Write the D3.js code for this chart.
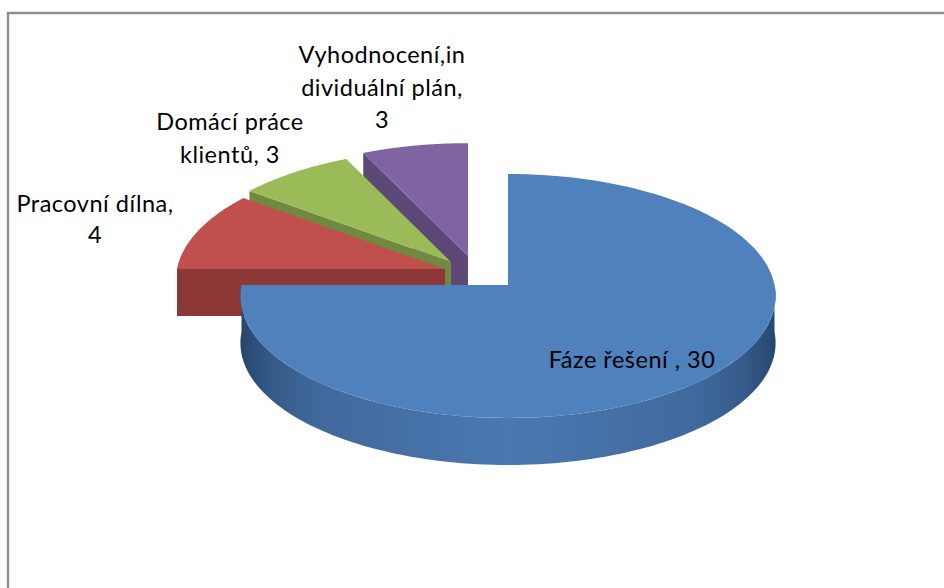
<!DOCTYPE html>
<html><head><meta charset="utf-8">
<script src="https://cdn.jsdelivr.net/npm/d3@7"></script>
<style>html,body{margin:0;padding:0;background:#fff;overflow:hidden}svg{display:block}
text{font-family:Lato,"Noto Sans",sans-serif;fill:#000}</style></head>
<body><svg id="c" width="944" height="588"></svg>
<script>
const categories = ["Fáze řešení", "Pracovní dílna", "Domácí práce klientů", "Vyhodnocení,individuální plán"];
const values = [30, 4, 3, 3];
const topColors = ["#4f81bd", "#c0504d", "#9bbb59", "#8064a2"];
const wallColors = ["#3f6a9f", "#8c3836", "#71893f", "#5c4776"];
const labelLines = [["Fáze řešení , 30"], ["Pracovní dílna,", "4"], ["Domácí práce", "klientů, 3"], ["Vyhodnocení,in", "dividuální plán,", "3"]];

// layout of the exploded slices and labels (pixels)
const apexX = [508, 445, 451, 468];
const apexY = [285, 269, 262, 256];
const radiusX = [266.5, 268, 268, 268];
const radiusY = [121, 123, 123, 123];
const labelX = [632, 95, 230, 382];
const labelY = [[368], [212, 243], [130, 163], [63, 96, 128]];
const boundaryNudgeDeg = [0, 0, 1.5, 2, 0]; // perspective shift of the wedge edges
const K = 0.09, DEPTH = 47;

const svg = d3.select("#c");
const defs = svg.append("defs");
const grad = defs.append("linearGradient").attr("id","wall").attr("gradientUnits","userSpaceOnUse")
  .attr("x1",241).attr("x2",776).attr("y1",0).attr("y2",0);
[[0,"#26466e"],[0.06,"#355b8a"],[0.15,"#41699d"],[0.5,"#4a78b0"],[0.85,"#41699d"],[0.94,"#355b8a"],[1,"#26466e"]]
  .forEach(([o,c])=>grad.append("stop").attr("offset",o).attr("stop-color",c));

// frame
const frame = d3.path();
frame.moveTo(8,588); frame.lineTo(8,13); frame.lineTo(944,13);
svg.append("path").attr("d",frame.toString()).attr("fill","none").attr("stroke","#8e8e8e").attr("stroke-width",2.4);

const pie = d3.pie().sort(null).value(d=>d);
const arcs = pie(values);
const line = d3.line();
const rad = d => d*Math.PI/180;
function proj(t, i, dz = 0){
  const s = 1/(1 + K*Math.cos(t));
  return [apexX[i] + radiusX[i]*Math.sin(t)*s, apexY[i] - radiusY[i]*Math.cos(t)*s + dz];
}
const samples = (a,b)=> d3.range(0,121).map(k=>a+(b-a)*k/120);

// paint back to front
[3,2,1,0].forEach(i=>{
  const a = arcs[i], g = svg.append("g");
  const start = a.startAngle + rad(boundaryNudgeDeg[i]);
  const end = a.endAngle + rad(boundaryNudgeDeg[i+1]);
  if (i>0){
    // cut face of the leading radius
    g.append("path").attr("fill",wallColors[i]).attr("d", line([
      proj(start,i),[apexX[i],apexY[i]],[apexX[i],apexY[i]+DEPTH],proj(start,i,DEPTH)])+"Z");
  } else {
    const th = samples(Math.PI/2, Math.PI*1.5).map(t=>proj(t,i));
    const bt = samples(Math.PI/2, Math.PI*1.5).map(t=>proj(t,i,DEPTH)).reverse();
    g.append("path").attr("fill","url(#wall)").attr("d", line(th.concat(bt))+"Z");
  }
  const pts = [[apexX[i],apexY[i]]].concat(samples(start,end).map(t=>proj(t,i)));
  g.append("path").attr("fill",topColors[i]).attr("d", line(pts)+"Z");
});

labelLines.forEach((ls,i)=>{
  const t = svg.append("text").attr("text-anchor","middle").attr("font-size",23.5).attr("letter-spacing",0.5);
  ls.forEach((s,k)=>t.append("tspan").attr("x",labelX[i]).attr("y",labelY[i][k]).text(s));
});
</script></body></html>
